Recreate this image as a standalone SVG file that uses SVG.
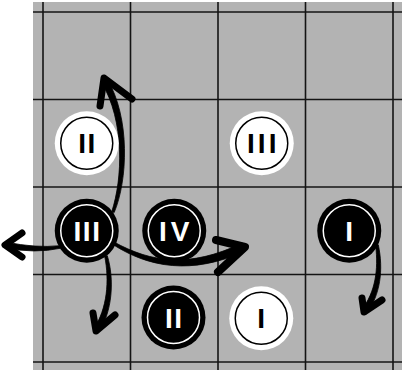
<svg xmlns="http://www.w3.org/2000/svg" width="402" height="376" viewBox="0 0 402 376">
  <style>
    .board { fill: #b3b3b3; }
    .grid line { stroke: #141414; stroke-width: 1.6; }
    .shaft { fill: #000; stroke: #000; stroke-width: 0.8; stroke-linejoin: round; }
    .head { fill: none; stroke: #000; stroke-width: 7; stroke-linecap: round; stroke-linejoin: round; }
    .blk .disc { fill: #000; }
    .blk .ring { fill: none; stroke: #fff; stroke-width: 1.5; }
    .blk text { fill: #fff; }
    .wht .disc { fill: #fff; }
    .wht .ring { fill: none; stroke: #000; stroke-width: 1.5; }
    .wht text { fill: #000; }
    text { font-family: "Liberation Sans", Arial, sans-serif; font-weight: bold; font-size: 28px; letter-spacing: 1.5px; text-anchor: middle; }
  </style>

  <rect class="board" x="33" y="2" width="369" height="368"/>
  <g class="grid">
    <line x1="43" y1="2" x2="43" y2="370"/>
    <line x1="130.5" y1="2" x2="130.5" y2="370"/>
    <line x1="218" y1="2" x2="218" y2="370"/>
    <line x1="305.5" y1="2" x2="305.5" y2="370"/>
    <line x1="393" y1="2" x2="393" y2="370"/>
    <line x1="33" y1="12" x2="402" y2="12"/>
    <line x1="33" y1="99.5" x2="402" y2="99.5"/>
    <line x1="33" y1="187" x2="402" y2="187"/>
    <line x1="33" y1="274.5" x2="402" y2="274.5"/>
    <line x1="33" y1="362" x2="402" y2="362"/>
  </g>

  <g id="connectors">
    <!-- III up -->
    <path class="shaft" d="M114.2,212.5 C127.5,180.9 130.8,118.4 106.8,78.3 L101.2,81.7 C125.2,121.6 122.5,179.1 111.8,211.5 Z"/>
    <polyline class="head" points="100,106 104,78 132,99"/>
    <!-- III left -->
    <path class="shaft" d="M59.8,245.7 Q35,248.2 6.6,242.1 L5.4,247.9 Q35,253.8 60.2,248.3 Z"/>
    <polyline class="head" points="22,233 5,245 22,257"/>
    <!-- III down -->
    <path class="shaft" d="M104.7,256.3 C109.5,280.6 107.5,308.35 93.5,329.35 L98.5,332.65 C112.5,311.65 114.5,279.4 107.3,255.7 Z"/>
    <polyline class="head" points="93,313 96,331 115,315"/>
    <!-- III right, under IV -->
    <path class="shaft" d="M112.4,244.2 C148.7,267.5 191.5,275.5 245.6,250.9 L242.4,243.1 C188.5,268.5 151.3,262.5 113.6,241.8 Z"/>
    <polyline class="head" points="216,240 245,247 218,272" style="stroke-width:8"/>
    <!-- I down -->
    <path class="shaft" d="M375.7,245.2 C378.4,270.4 375.6,291.2 361.6,310.2 L366.4,313.8 C380.4,294.8 383.6,269.6 378.3,244.8 Z"/>
    <polyline class="head" points="362,298 364,312 382,300"/>
  </g>

  <g id="white-II" class="wht" transform="translate(86.75,143.25)">
    <circle class="disc" r="32"/>
    <circle class="ring" r="26"/>
    <text x="0.75" y="10">II</text>
  </g>
  <g id="white-III" class="wht" transform="translate(261.75,143.25)">
    <circle class="disc" r="32"/>
    <circle class="ring" r="26"/>
    <text x="1.5" y="10" style="letter-spacing:3px">III</text>
  </g>
  <g id="black-III" class="blk" transform="translate(86.75,230.75)">
    <circle class="disc" r="32"/>
    <circle class="ring" r="26"/>
    <text x="0.75" y="10">III</text>
  </g>
  <g id="black-IV" class="blk" transform="translate(174.25,230.75)">
    <circle class="disc" r="32"/>
    <circle class="ring" r="26"/>
    <text x="0.75" y="10">I<tspan dx="2.5">V</tspan></text>
  </g>
  <g id="black-I" class="blk" transform="translate(349.25,230.75)">
    <circle class="disc" r="32"/>
    <circle class="ring" r="26"/>
    <text x="0.75" y="10">I</text>
  </g>
  <g id="black-II" class="blk" transform="translate(173.5,317.5)">
    <circle class="disc" r="32"/>
    <circle class="ring" r="26"/>
    <text x="0.75" y="10">II</text>
  </g>
  <g id="white-I" class="wht" transform="translate(261.25,318.25)">
    <circle class="disc" r="32"/>
    <circle class="ring" r="26"/>
    <text x="0.75" y="10">I</text>
  </g>
</svg>
